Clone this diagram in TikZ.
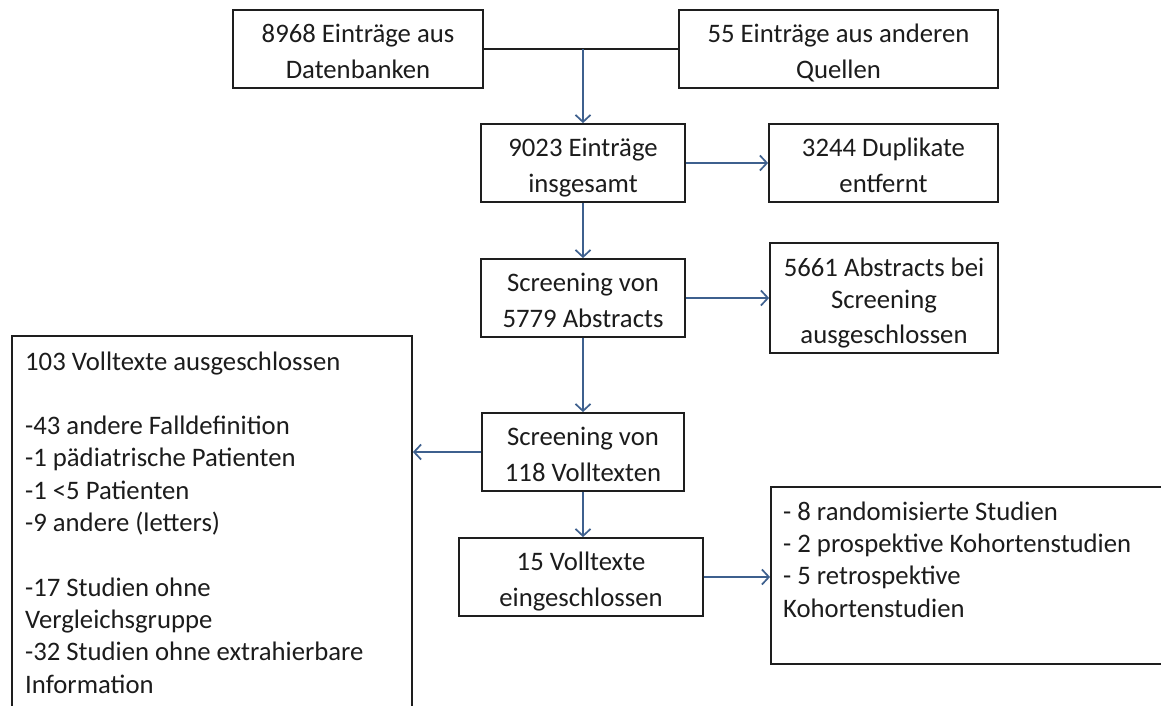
\documentclass[tikz,border=0pt]{standalone}
\usepackage{fontspec}
\setmainfont{Carlito}
\usetikzlibrary{arrows.meta}
\definecolor{arrowblue}{RGB}{62,96,142}
\definecolor{boxline}{RGB}{30,30,30}
\definecolor{txt}{RGB}{28,28,28}
\newcommand\myst{\rule[-6pt]{0pt}{35.3pt}}
\begin{document}
\begin{tikzpicture}[x=1pt,y=-1pt,
  txtfont/.style={font=\fontsize{26.7}{32.3}\selectfont, text=txt},
  box/.style={draw=boxline, line width=1.8pt, inner sep=0pt, align=center, txtfont},
  plainbox/.style={draw=boxline, line width=1.8pt, inner sep=0pt},
  listtext/.style={anchor=base west, inner sep=0pt, align=left, txtfont},
  conn/.style={draw=arrowblue, line width=1.7pt, -{Straight Barb[length=7pt,width=15pt,line width=1.7pt]}},
  joinline/.style={draw=boxline, line width=1.8pt}
  ]
\useasboundingbox (0,0) rectangle (1161,706);
\clip (0,0) rectangle (1161,706);
\fill[white] (0,0) rectangle (1161,706);

\node[box, minimum width=250pt, minimum height=78pt] (A) at (358,49) {\myst 8968 Einträge aus\\Datenbanken\myst};
\node[box, minimum width=319pt, minimum height=78pt] (B) at (838.5,49) {\myst 55 Einträge aus anderen\\Quellen\myst};
\node[box, minimum width=204pt, minimum height=78pt] (C) at (583,163) {\myst 9023 Einträge\\insgesamt\myst};
\node[box, minimum width=229pt, minimum height=78pt] (D) at (883.5,163) {\myst 3244 Duplikate\\entfernt\myst};
\node[box, minimum width=204pt, minimum height=78pt] (E) at (583,298) {\myst Screening von\\5779 Abstracts\myst};
\node[box, minimum width=228pt, minimum height=110pt] (F) at (884,298) {\myst 5661 Abstracts bei\\Screening\\ausgeschlossen\myst};
\node[box, minimum width=202pt, minimum height=78pt] (G) at (583,452) {\myst Screening von\\118 Volltexten\myst};
\node[box, minimum width=244pt, minimum height=78pt] (I) at (581,577) {\myst 15 Volltexte\\eingeschlossen\myst};

\node[plainbox, minimum width=400pt, minimum height=384pt] (H) at (212,528) {};
\node[listtext] (Ht) at (25,693) {103 Volltexte ausgeschlossen\\\mbox{}\\-43 andere Falldefinition\\-1 pädiatrische Patienten\\-1 <5 Patienten\\-9 andere (letters)\\\mbox{}\\-17 Studien ohne\\Vergleichsgruppe\\-32 Studien ohne extrahierbare\\Information};

\node[plainbox, minimum width=409pt, minimum height=177pt] (J) at (975.5,575.5) {};
\node[listtext] (Jt) at (783,617) {- 8 randomisierte Studien\\- 2 prospektive Kohortenstudien\\- 5 retrospektive\\Kohortenstudien};

\coordinate (jn) at (583,49);
\draw[joinline] (A.east) -- (B.west);
\draw[conn] (jn) -- (C.north);
\draw[conn] (C.east) -- (D.west);
\draw[conn] (C.south) -- (E.north);
\draw[conn] (E.east) -- (F.west);
\draw[conn] (E.south) -- (G.north);
\draw[conn] (G.west) -- (G.west -| H.east);
\draw[conn] (G.south) -- (G.south |- I.north);
\draw[conn] (I.east) -- (I.east -| J.west);
\end{tikzpicture}
\end{document}
